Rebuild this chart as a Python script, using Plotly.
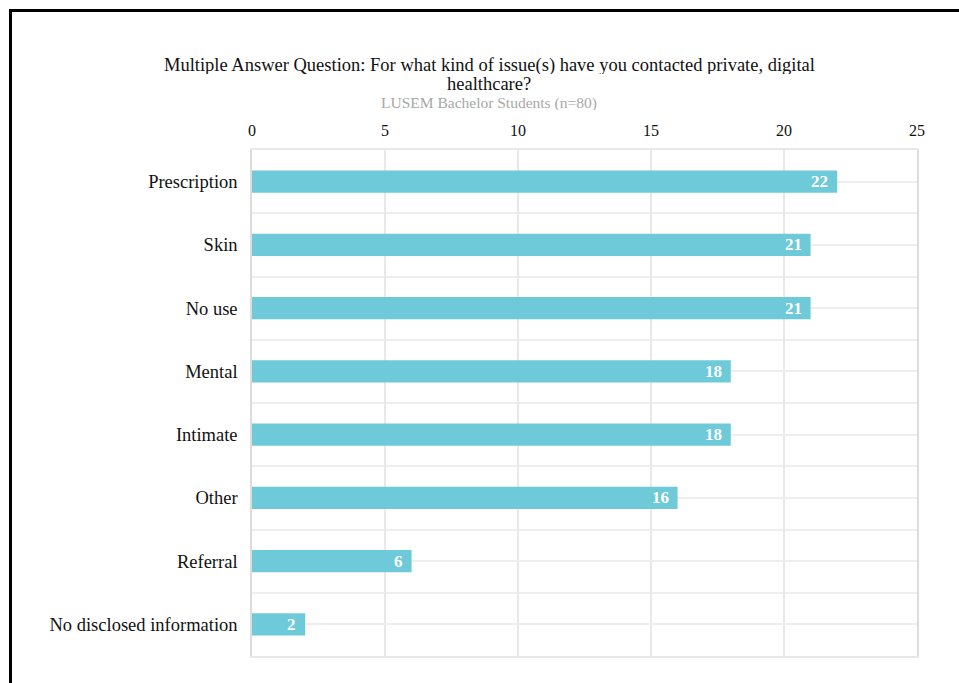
import plotly.graph_objects as go

# Survey responses (multiple answers allowed)
categories = ["Prescription", "Skin", "No use", "Mental", "Intimate",
              "Other", "Referral", "No disclosed information"]
counts = [22, 21, 21, 18, 18, 16, 6, 2]

title_lines = ["Multiple Answer Question: For what kind of issue(s) have you "
               "contacted private, digital",
               "healthcare?"]
subtitle_text = "LUSEM Bachelor Students (n=80)"

W, H = 959, 683
L, R, T, B = 252, 42, 150, 27
plot_w = W - L - R
plot_h = H - T - B


def px_x(px):
    return (px - L) / plot_w


def px_y(py):
    return (H - B - py) / plot_h


serif = "Liberation Serif"
positions = list(range(len(categories)))

fig = go.Figure(go.Bar(
    x=counts,
    y=positions,
    orientation="h",
    width=0.35,
    marker=dict(color="#6ecad9", line=dict(width=0)),
    hoverinfo="x+y",
))

# value labels inside the bar ends
value_labels = [
    dict(text=f"<b>{c}</b>", x=c, y=p, xref="x", yref="y",
         xanchor="right", yanchor="middle", xshift=-7, showarrow=False,
         font=dict(family=serif, size=17, color="white"))
    for c, p in zip(counts, positions)
]

heading = [
    dict(text=title_lines[0], xref="paper", yref="paper",
         x=px_x(489), y=px_y(65), xanchor="center", yanchor="middle",
         height=18, valign="middle",
         showarrow=False, font=dict(family=serif, size=18.5, color="#111111")),
    dict(text=title_lines[1], xref="paper", yref="paper",
         x=px_x(489), y=px_y(84), xanchor="center", yanchor="middle",
         height=18, valign="middle",
         showarrow=False, font=dict(family=serif, size=18.5, color="#111111")),
    dict(text=subtitle_text, xref="paper", yref="paper",
         x=px_x(489), y=px_y(102), xanchor="center", yanchor="middle",
         height=15, valign="middle",
         showarrow=False, font=dict(family=serif, size=15.5, color="#a8a8a8")),
]

fig.update_layout(
    width=W, height=H,
    margin=dict(l=L, r=R, t=T, b=B),
    paper_bgcolor="white",
    plot_bgcolor="white",
    showlegend=False,
    font=dict(family=serif, color="#111111"),
    xaxis=dict(
        side="top",
        range=[0, 25],
        tickvals=[0, 5, 10, 15, 20, 25],
        tickfont=dict(family=serif, size=16, color="#111111"),
        showgrid=True, gridcolor="#e8e8e8", gridwidth=1.5,
        zeroline=False,
        showline=True, linecolor="#e8e8e8", linewidth=1.5, mirror=True,
        ticks="", ticklabelstandoff=6,
    ),
    yaxis=dict(
        range=[len(categories) - 0.5, -0.5],
        tickvals=positions,
        ticktext=categories,
        tickfont=dict(family=serif, size=18.5, color="#111111"),
        showgrid=True, gridcolor="#eeeeee", gridwidth=1.5,
        zeroline=False,
        showline=True, linecolor="#dcdcdc", linewidth=1.5, mirror=True,
        ticks="", ticklabelstandoff=9,
        minor=dict(tickvals=[p + 0.5 for p in positions[:-1]],
                   showgrid=True, gridcolor="#eeeeee", gridwidth=1.5),
    ),
    annotations=value_labels + heading,
    shapes=[
        dict(type="rect", xref="paper", yref="paper",
             x0=px_x(10.5), y0=px_y(720), x1=px_x(1000), y1=px_y(10.5),
             line=dict(color="black", width=3), fillcolor="rgba(0,0,0,0)",
             layer="above"),
    ],
)

fig.write_html("out.html")
